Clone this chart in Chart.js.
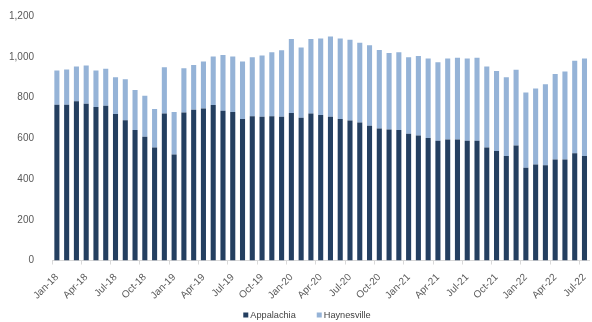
<!DOCTYPE html>
<html>
<head>
<meta charset="utf-8">
<script src="https://cdn.jsdelivr.net/npm/chart.js@4"></script>
<style>
    html, body { margin: 0; padding: 0; background: #fff; overflow: hidden; }
    .chart-box { position: relative; width: 600px; height: 322px; }
</style>
</head>
<body>
<div class="chart-box"><canvas id="rigChart"></canvas></div>
<script>
// Monthly categories, Jan-18 through Jul-22
const monthNames = ['Jan', 'Feb', 'Mar', 'Apr', 'May', 'Jun', 'Jul', 'Aug', 'Sep', 'Oct', 'Nov', 'Dec'];
const months = [];
for (let y = 18; y <= 22; y++) {
    for (let m = 0; m < 12; m++) {
        if (y === 22 && m > 6) break;
        months.push(monthNames[m] + '-' + y);
    }
}

const appalachia = [
    764, 764, 782, 769, 753, 760, 719, 688, 640, 607, 554, 722,
    520, 726, 740, 746, 763, 735, 729, 695, 708, 705, 708, 705,
    724, 701, 721, 714, 705, 695, 687, 677, 661, 648, 643, 640,
    622, 614, 601, 588, 594, 594, 588, 588, 554, 538, 513, 564,
    455, 471, 468, 496, 496, 526, 513
];
const haynesville = [
    169, 174, 170, 188, 180, 181, 181, 201, 197, 201, 189, 226,
    209, 218, 220, 231, 238, 274, 272, 282, 290, 301, 314, 327,
    363, 345, 366, 376, 395, 395, 397, 392, 395, 385, 376, 382,
    376, 390, 390, 385, 397, 401, 403, 407, 398, 392, 386, 372,
    369, 373, 397, 419, 432, 454, 478
];
const yTicks = [0, 200, 400, 600, 800, 1000, 1200];

const darkBlue = '#243f60';
const lightBlue = '#95b3d7';
const axisGrey = '#d9d9d9';
const textGrey = '#595959';
const fontFamily = '"Liberation Sans", Arial, sans-serif';

Chart.defaults.font.family = fontFamily;
Chart.defaults.font.size = 10;
Chart.defaults.color = textGrey;

// Small square-marker legend under the axis, drawn straight on the canvas
const bottomLegend = {
    id: 'bottomLegend',
    afterDraw(chart) {
        const ctx = chart.ctx;
        const box = 5, gap = 2, spacing = 21;
        const y = 315;
        ctx.save();
        ctx.font = '9.2px ' + fontFamily;
        ctx.textBaseline = 'middle';
        ctx.textAlign = 'left';
        const items = chart.data.datasets.map(ds => ({
            text: ds.label,
            color: ds.backgroundColor,
            w: box + gap + ctx.measureText(ds.label).width
        }));
        const total = items.reduce((s, it) => s + it.w, 0) + spacing * (items.length - 1);
        let x = 307 - total / 2;
        items.forEach(it => {
            ctx.fillStyle = it.color;
            ctx.fillRect(x, y - 2.5, box, box);
            ctx.fillStyle = '#404040';
            ctx.fillText(it.text, x + box + gap, y);
            x += it.w + spacing;
        });
        ctx.restore();
    }
};

new Chart(document.getElementById('rigChart'), {
    type: 'bar',
    data: {
        labels: months,
        datasets: [
            {
                label: 'Appalachia',
                data: appalachia,
                backgroundColor: darkBlue,
                categoryPercentage: 1,
                barPercentage: 0.52
            },
            {
                label: 'Haynesville',
                data: haynesville,
                backgroundColor: lightBlue,
                categoryPercentage: 1,
                barPercentage: 0.52
            }
        ]
    },
    options: {
        responsive: true,
        maintainAspectRatio: false,
        animation: false,
        layout: {
            padding: { top: 5, right: 3.5, bottom: 20.5, left: 0 }
        },
        plugins: {
            tooltip: { enabled: false },
            legend: { display: false }
        },
        scales: {
            x: {
                stacked: true,
                border: { display: true, color: axisGrey },
                grid: {
                    drawOnChartArea: false,
                    tickLength: 4,
                    color: (c) => (c.index % 3 === 0 ? axisGrey : 'rgba(0,0,0,0)')
                },
                ticks: {
                    autoSkip: false,
                    maxRotation: 45,
                    minRotation: 45,
                    padding: 7,
                    callback: function (val, i) {
                        return i % 3 === 0 ? this.getLabelForValue(val) : '';
                    }
                },
                afterFit: (scale) => { scale.height = 41; }
            },
            y: {
                stacked: true,
                min: 0,
                max: 1200,
                afterBuildTicks: (scale) => {
                    scale.ticks = yTicks.map(v => ({ value: v }));
                },
                border: { display: false },
                grid: { display: false },
                ticks: {
                    padding: 10,
                    callback: (v) => v.toLocaleString('en-US')
                },
                afterFit: (scale) => { scale.width = 52; }
            }
        }
    },
    plugins: [bottomLegend]
});
</script>
</body>
</html>
